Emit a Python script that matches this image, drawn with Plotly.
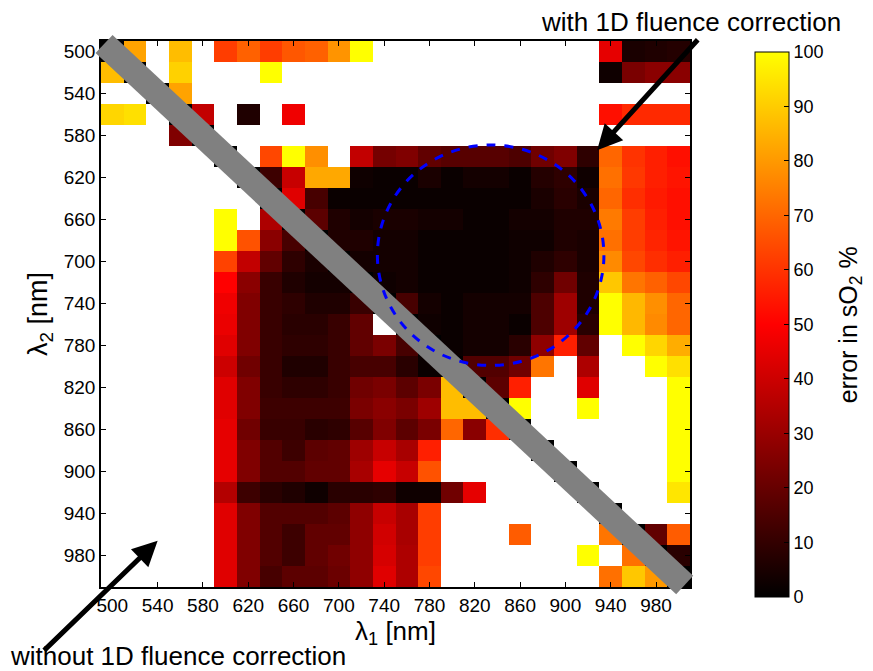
import plotly.graph_objects as go

N = None
wavelengths = list(range(500, 1001, 20))          # lambda_1 (x) and lambda_2 (y), nm
tick_values = list(range(500, 981, 40))
cbar_ticks = list(range(0, 101, 10))

# error in sO2 (%) ; rows = lambda_2 (500..1000), columns = lambda_1 (500..1000); None = no value
err = [
    [0, 82, N, 87, N, 62, 69, 62, 67, 69, 79, 100, N, N, N, N, N, N, N, N, N, N, 45, 5, 6, 7],
    [87, 0, N, 91, N, N, N, 100, N, N, N, N, N, N, N, N, N, N, N, N, N, N, 3, 24, 27, 27],
    [N, N, 0, 82, N, N, N, N, N, N, N, N, N, N, N, N, N, N, N, N, N, N, N, N, N, N],
    [92, 94, N, 0, 38, N, 6, N, 47, N, N, N, N, N, N, N, N, N, N, N, N, N, 53, 58, 58, 58],
    [N, N, N, 25, 0, N, N, N, N, N, N, N, N, N, N, N, N, N, N, N, N, N, N, N, N, N],
    [N, N, N, N, N, 0, N, 64, 100, 78, N, 38, 23, 25, 19, 17, 17, 17, 15, 22, 25, 9, 70, 60, 56, 53],
    [N, N, N, N, N, N, 0, 12, 39, 83, 83, 3, 2, 2, 5, 2, 4, 4, 2, 7, 9, 3, 72, 61, 56, 54],
    [N, N, N, N, N, N, N, 0, 44, 14, 2, 2, 2, 2, 2, 2, 2, 2, 2, 5, 8, 5, 70, 59, 55, 53],
    [N, N, N, N, N, 100, N, 34, 0, 18, 6, 4, 5, 5, 4, 4, 2, 2, 4, 4, 6, 6, 74, 62, 56, 53],
    [N, N, N, N, N, 100, 66, 27, 14, 0, 6, 6, 4, 4, 2, 2, 2, 2, 3, 3, 6, 5, 72, 62, 57, 54],
    [N, N, N, N, N, 63, 38, 19, 9, 5, 0, 4, 4, 4, 2, 2, 2, 2, 3, 6, 9, 5, 77, 64, 59, 56],
    [N, N, N, N, N, 50, 27, 11, 6, 4, 4, 0, 3, 4, 2, 2, 2, 2, 3, 9, 22, 6, 89, 73, 69, 64],
    [N, N, N, N, N, 47, 25, 11, 9, 6, 6, 11, 0, 14, 4, 2, 4, 4, 4, 15, 31, 6, 100, 86, 78, 70],
    [N, N, N, N, N, 46, 25, 11, 8, 8, 11, 19, N, 0, 3, 2, 4, 4, 2, 15, 31, 8, 100, 86, 77, 70],
    [N, N, N, N, N, 44, 25, 11, 9, 9, 11, 19, 24, 14, 0, 2, 4, 4, 8, 28, 56, 19, N, 100, 92, 84],
    [N, N, N, N, N, 40, 22, 11, 6, 6, 11, 14, 14, 8, 2, 0, 16, 16, 22, 73, N, 34, N, N, 100, 94],
    [N, N, N, N, N, 44, 25, 11, 9, 9, 11, 22, 24, 18, 24, 87, 0, 18, 56, N, N, 44, N, N, N, 100],
    [N, N, N, N, N, 44, 25, 12, 12, 12, 12, 24, 27, 24, 31, 87, 87, 0, 100, N, N, 100, N, N, N, 100],
    [N, N, N, N, N, 45, 22, 11, 11, 8, 9, 17, 25, 18, 24, 70, 27, 59, 0, N, N, N, N, N, N, 100],
    [N, N, N, N, N, 45, 25, 16, 12, 18, 19, 31, 39, 33, 56, N, N, N, N, 0, N, N, N, N, N, 100],
    [N, N, N, N, N, 45, 25, 16, 16, 19, 19, 33, 45, 39, 66, N, N, N, N, N, 0, N, N, N, N, 100],
    [N, N, N, N, N, 35, 12, 8, 6, 3, 8, 8, 9, 3, 3, 22, 45, N, N, N, N, 0, N, N, N, 95],
    [N, N, N, N, N, 44, 25, 16, 16, 16, 18, 28, 39, 33, 62, N, N, N, N, N, N, N, 0, N, N, N],
    [N, N, N, N, N, 44, 25, 16, 12, 19, 19, 28, 41, 33, 62, N, N, N, 68, N, N, N, 73, 0, 19, 68],
    [N, N, N, N, N, 44, 25, 16, 12, 19, 22, 28, 42, 34, 62, N, N, N, N, N, N, 100, N, 72, 0, 8],
    [N, N, N, N, N, 44, 25, 14, 18, 18, 21, 28, 44, 34, 64, N, N, N, N, N, N, N, 72, 89, 80, 0],
]

FONT = "Liberation Sans, Arial, Helvetica, sans-serif"
X_RANGE = [490, 1010]
Y_RANGE = [1010, 490]

fig = go.Figure(go.Heatmap(
    x=wavelengths, y=wavelengths, z=err,
    zmin=0, zmax=100,
    colorscale=[[0, "#000000"], [0.5, "#ff0000"], [1, "#ffff00"]],
    hoverongaps=False,
    colorbar=dict(
        thickness=34, lenmode="pixels", len=565, ypad=10, xpad=10,
        x=1.093, xanchor="left", y=0.481, yanchor="middle",
        outlinecolor="black", outlinewidth=1,
        tickvals=cbar_ticks, ticks="inside", ticklen=5, tickcolor="black",
        tickfont=dict(size=18, family=FONT, color="black"),
    ),
))

axis_common = dict(
    tickvals=tick_values, ticks="inside", ticklen=5, tickcolor="black",
    showline=True, linecolor="black", linewidth=1.5, mirror="ticks",
    showgrid=False, zeroline=False,
    tickfont=dict(size=19, family=FONT, color="black"),
)
fig.update_xaxes(range=X_RANGE, title=dict(text="λ<sub>1</sub> [nm]", standoff=6,
                 font=dict(size=26, family=FONT, color="black")), **axis_common)
fig.update_yaxes(range=Y_RANGE, title=dict(text="λ<sub>2</sub> [nm]", standoff=8,
                 font=dict(size=27, family=FONT, color="black")), **axis_common)


def to_paper(xd, yd):
    px = (xd - X_RANGE[0]) / (X_RANGE[1] - X_RANGE[0])
    py = (Y_RANGE[0] - yd) / (Y_RANGE[0] - Y_RANGE[1])
    return px, py


# diagonal grey bar (square-ended rectangle along lambda_1 = lambda_2), not clipped to the axes
bar_corners = [(485.2, 501.5), (500.2, 484.2), (1012.8, 999.4), (997.8, 1016.8)]
pts = [to_paper(a, b) for a, b in bar_corners]
path = "M " + " L ".join(f"{p[0]:.5f},{p[1]:.5f}" for p in pts) + " Z"
fig.add_shape(type="path", xref="paper", yref="paper", path=path,
              fillcolor="#808080", line=dict(width=0), layer="above")

# dashed blue circle
fig.add_shape(type="circle", xref="x", yref="y", x0=734, y0=589, x1=934, y1=799,
              line=dict(color="#0000ff", width=3, dash="dash"), layer="above")

# arrows
fig.add_annotation(x=928, y=594, xref="x", yref="y", ax=102, ay=-112, text="",
                   showarrow=True, arrowhead=2, arrowsize=1, arrowwidth=5, arrowcolor="black")
fig.add_annotation(x=540, y=966, xref="x", yref="y", ax=-115, ay=111, text="",
                   showarrow=True, arrowhead=2, arrowsize=1, arrowwidth=5, arrowcolor="black")

fig.add_annotation(x=1.0017, y=1.035, xref="paper", yref="paper", xanchor="center", yanchor="middle",
                   text="with 1D fluence correction",
                   showarrow=False, font=dict(size=26, family=FONT, color="black"))
fig.add_annotation(x=0.131, y=-0.126, xref="paper", yref="paper", xanchor="center", yanchor="middle",
                   text="without 1D fluence correction",
                   showarrow=False, font=dict(size=26, family=FONT, color="black"))

# colour-bar label
fig.add_annotation(x=(850 - 101) / 589, y=0.481, xref="paper", yref="paper",
                   xanchor="center", yanchor="middle", textangle=-90,
                   text="error in sO<sub>2</sub> %", showarrow=False,
                   font=dict(size=25, family=FONT, color="black"))

fig.update_layout(
    width=873, height=671,
    margin=dict(l=101, r=183, t=41, b=84),
    paper_bgcolor="white", plot_bgcolor="white",
    font=dict(family=FONT, color="black"),
    showlegend=False,
)

fig.write_html("out.html")
